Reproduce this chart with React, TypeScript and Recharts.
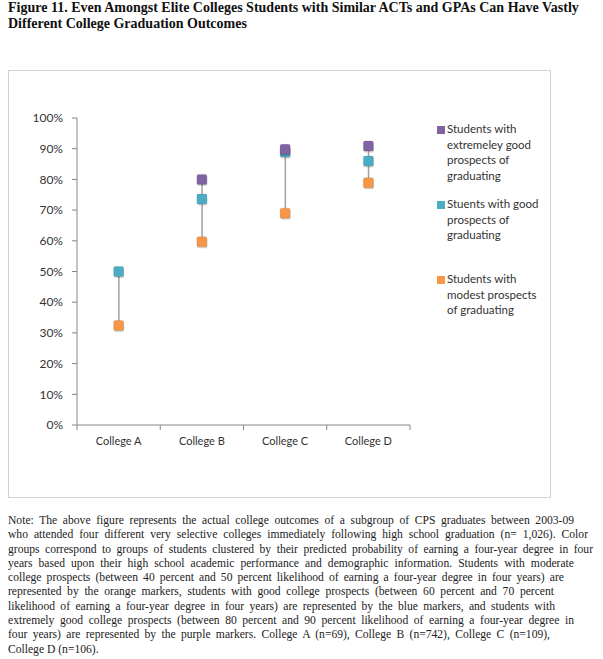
import { ComposedChart, Bar, Line, XAxis, YAxis } from 'recharts';

const COLLEGES = ['College A', 'College B', 'College C', 'College D'];
const EXTREME = [null, 0.8, 0.898, 0.909];
const GOOD = [0.5, 0.736, 0.889, 0.86];
const MODEST = [0.324, 0.597, 0.69, 0.789];
const Y_TICKS = [0, 0.1, 0.2, 0.3, 0.4, 0.5, 0.6, 0.7, 0.8, 0.9, 1];

const PURPLE = '#8064a2';
const CYAN = '#4bacc6';
const ORANGE = '#f79646';

const LEGEND = [
  { color: PURPLE, lines: ['Students with', 'extremeley good', 'prospects of', 'graduating'], top: 121 },
  { color: CYAN, lines: ['Stuents with good', 'prospects of', 'graduating'], top: 196 },
  { color: ORANGE, lines: ['Students with', 'modest prospects', 'of graduating'], top: 271 },
];

// note lines as wrapped in the source, with the width each one fills
const NOTE = [
  'Note: The above figure represents the actual college outcomes of a subgroup of CPS graduates between 2003-09',
  'who attended four different very selective colleges immediately following high school graduation (n= 1,026). Color',
  'groups correspond to groups of students clustered by their predicted probability of earning a four-year degree in four',
  'years based upon their high school academic performance and demographic information. Students with moderate',
  'college prospects (between 40 percent and 50 percent likelihood of earning a four-year degree in four years) are',
  'represented by the orange markers, students with good college prospects (between 60 percent and 70 percent',
  'likelihood of earning a four-year degree in four years) are represented by the blue markers, and students with',
  'extremely good college prospects (between 80 percent and 90 percent likelihood of earning a four-year degree in',
  'four years) are represented by the purple markers. College A (n=69), College B (n=742), College C (n=109),',
  'College D (n=106).',
];
const NOTE_WIDTHS = [566, 580, 585, 566, 556, 546, 547, 566, 542, 0];

const data = COLLEGES.map((name, i) => {
  const vals = [EXTREME[i], GOOD[i], MODEST[i]].filter((v): v is number => v != null);
  return {
    name,
    extreme: EXTREME[i],
    good: GOOD[i],
    modest: MODEST[i],
    range: [Math.min(...vals), Math.max(...vals)],
  };
});

const FONT = 'Lato, "Open Sans", sans-serif';
const SERIF = '"Liberation Serif", "Times New Roman", serif';

function squareDot(color: string) {
  return (props: any) => {
    const { cx, cy, value, index } = props;
    if (value == null || cy == null) return <g key={index} />;
    return (
      <g key={index}>
        <rect x={cx - 4.5} y={cy - 3.5} width={10} height={10} rx={1.5} fill="rgba(0,0,0,0.16)" />
        <rect x={cx - 5} y={cy - 5} width={10} height={10} rx={1.5} fill={color} stroke="rgba(0,0,0,0.12)" strokeWidth={0.8} />
      </g>
    );
  };
}

function HighLow(props: any) {
  const { x, y, width, height } = props;
  const cx = x + width / 2;
  return <line x1={cx} x2={cx} y1={y} y2={y + height} stroke="#a6a6a6" strokeWidth={1.6} />;
}

function CollegeTick(props: any) {
  const { x, y, payload, index } = props;
  const half = payload?.offset || 41.6;
  return (
    <g>
      <line x1={x - half} x2={x - half} y1={y} y2={y + 5} stroke="#868686" />
      {index === COLLEGES.length - 1 && (
        <line x1={x + half} x2={x + half} y1={y} y2={y + 5} stroke="#868686" />
      )}
      <text x={x} y={y + 17} textAnchor="middle" dominantBaseline="middle" fontSize={11} fill="#333" fontFamily={FONT}>
        {payload.value}
      </text>
    </g>
  );
}

export default function App() {
  return (
    <div style={{ position: 'absolute', left: 0, top: 0, width: 603, height: 659, background: '#fff' }}>
      <div
        style={{
          position: 'absolute', left: 8, top: 0, fontFamily: SERIF,
          fontWeight: 'bold', fontSize: 14, lineHeight: '16px', color: '#111',
        }}
      >
        <div style={{ whiteSpace: 'nowrap' }}>
          Figure 11. Even Amongst Elite Colleges Students with Similar ACTs and GPAs Can Have Vastly
        </div>
        <div style={{ whiteSpace: 'nowrap' }}>Different College Graduation Outcomes</div>
      </div>

      <div
        style={{
          position: 'absolute', left: 8, top: 70, width: 543, height: 428,
          border: '1.5px solid #d2d2d2', boxSizing: 'border-box',
        }}
      />
      <div style={{ position: 'absolute', left: 8, top: 70 }}>
        <ComposedChart width={543} height={428} data={data} margin={{ top: 48, right: 141, bottom: 43, left: 0 }}>
          <XAxis
            dataKey="name"
            height={30}
            tickLine={false}
            tickSize={0}
            tickMargin={0}
            stroke="#868686"
            tick={<CollegeTick />}
            interval={0}
          />
          <YAxis
            width={69}
            domain={[0, 1]}
            ticks={Y_TICKS}
            tickFormatter={(v: number) => `${Math.round(v * 100)}%`}
            tickSize={5}
            tickMargin={9}
            stroke="#868686"
            tick={{ fontSize: 12, fill: '#333', fontFamily: FONT }}
          />
          <Bar dataKey="range" shape={<HighLow />} isAnimationActive={false} />
          <Line dataKey="modest" stroke="none" dot={squareDot(ORANGE)} activeDot={false} isAnimationActive={false} />
          <Line dataKey="good" stroke="none" dot={squareDot(CYAN)} activeDot={false} isAnimationActive={false} />
          <Line dataKey="extreme" stroke="none" dot={squareDot(PURPLE)} activeDot={false} isAnimationActive={false} />
        </ComposedChart>
      </div>

      {LEGEND.map((item) => (
        <div key={item.top} style={{ position: 'absolute', left: 437, top: item.top, fontFamily: FONT, fontSize: 11.5, color: '#333' }}>
          <div style={{ position: 'absolute', left: 0, top: 5, width: 8, height: 8, background: item.color }} />
          {item.lines.map((l, j) => (
            <div key={j} style={{ position: 'absolute', left: 10, top: j * 15.5, lineHeight: '16px', whiteSpace: 'nowrap' }}>
              {l}
            </div>
          ))}
        </div>
      ))}

      <div
        style={{
          position: 'absolute', left: 8, top: 514, fontFamily: SERIF,
          fontSize: 11.6, lineHeight: '14.3px', color: '#222',
        }}
      >
        {NOTE.map((l, i) => (
          <div
            key={i}
            style={{
              whiteSpace: 'nowrap',
              width: NOTE_WIDTHS[i] || undefined,
              textAlign: NOTE_WIDTHS[i] ? 'justify' : 'left',
              textAlignLast: NOTE_WIDTHS[i] ? 'justify' : 'left',
            }}
          >
            {l}
          </div>
        ))}
      </div>
    </div>
  );
}
